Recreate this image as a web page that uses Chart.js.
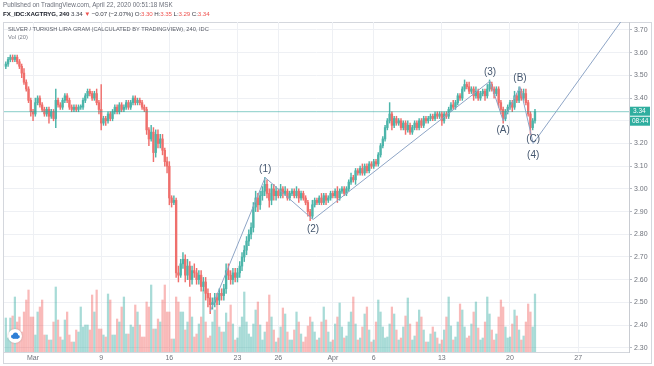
<!DOCTYPE html>
<html>
<head>
<meta charset="utf-8">
<script src="https://cdn.jsdelivr.net/npm/chart.js@4.4.1/dist/chart.umd.min.js"></script>
<style>
  body { margin: 0; background: #fff; }
  #wrap { position: relative; width: 654px; height: 366px; overflow: hidden; font-family: "Liberation Sans", "DejaVu Sans", sans-serif; }
  #frame { position: absolute; left: 3px; top: 22px; width: 647px; height: 340px; border: 1px solid #d4d7dd; }
  #myChart { position: absolute; left: 0; top: 0; }
  .txt { position: absolute; white-space: nowrap; }
  #pub { left: 3px; top: 1px; font-size: 6.3px; color: #6b6f7a; }
  #sym { left: 3px; top: 10px; font-size: 6.2px; color: #3a3e48; letter-spacing: -0.1px; }
  #sym b { color: #20242e; }
  .red { color: #ef5350; }
  #title { left: 8px; top: 26px; font-size: 5.7px; color: #5c606a; }
  #vol { left: 8px; top: 34px; font-size: 5.8px; color: #7a7e88; }
</style>
</head>
<body>
<div id="wrap">
  <div id="frame"></div>
  <canvas id="myChart" width="654" height="366"></canvas>
  <div class="txt" id="pub">Published on TradingView.com, April 22, 2020 00:51:18 MSK</div>
  <div class="txt" id="sym"><b>FX_IDC:XAGTRYG, 240</b> 3.34 <span class="red">▼</span> −0.07 (−2.07%) O:<span class="red">3.30</span> H:<span class="red">3.35</span> L:<span class="red">3.29</span> C:<span class="red">3.34</span></div>
  <div class="txt" id="title">SILVER / TURKISH LIRA GRAM (CALCULATED BY TRADINGVIEW), 240, IDC</div>
  <div class="txt" id="vol">Vol (20)</div>
</div>
<script>
'use strict';

// 4h bars, x = bar number counted from Mon 2 Mar 00:00 (6 bars a day, weekends left out)
var firstBar = -12;
var firstOpen = 3.54;

var closes = [
    3.55, 3.57, 3.58, 3.57, 3.58, 3.56,   // Feb 27
    3.54, 3.51, 3.47, 3.44, 3.39, 3.34,   // Feb 28
    3.33, 3.38, 3.40, 3.37, 3.35, 3.33,   // Mar 2
    3.35, 3.32, 3.34, 3.31, 3.39, 3.37,
    3.36, 3.39, 3.41, 3.39, 3.36, 3.35,
    3.36, 3.35, 3.36, 3.36, 3.39, 3.41,
    3.43, 3.42, 3.40, 3.42, 3.38, 3.35,
    3.29, 3.31, 3.30, 3.33, 3.31, 3.34,   // Mar 9
    3.36, 3.34, 3.37, 3.35, 3.36, 3.38,
    3.36, 3.38, 3.40, 3.38, 3.39, 3.38,
    3.36, 3.35, 3.26, 3.22, 3.25, 3.16,
    3.24, 3.20, 3.22, 3.17, 3.12, 3.10,
    2.96, 2.94, 2.95, 2.63, 2.62, 2.67,   // Mar 16
    2.69, 2.62, 2.66, 2.60, 2.64, 2.63,
    2.60, 2.62, 2.57, 2.59, 2.54, 2.52,
    2.49, 2.50, 2.52, 2.51, 2.54, 2.53,
    2.56, 2.64, 2.62, 2.60, 2.63, 2.61,
    2.63, 2.66, 2.70, 2.73, 2.77, 2.80,   // Mar 23
    2.83, 2.92, 2.96, 2.93, 2.97, 2.99,
    3.02, 2.98, 2.95, 3.00, 2.97, 2.99,
    2.97, 3.00, 2.98, 2.99, 2.96, 2.98,
    2.99, 2.97, 2.99, 2.96, 2.98, 2.96,
    2.94, 2.90, 2.88, 2.93, 2.95, 2.94,   // Mar 30
    2.96, 2.94, 2.97, 2.95, 2.96, 2.98,
    2.97, 2.99, 2.96, 2.99, 3.00, 2.98,
    3.00, 3.03, 3.05, 3.04, 3.08, 3.07,
    3.09, 3.07, 3.10, 3.08, 3.11, 3.10,
    3.12, 3.11, 3.15, 3.19, 3.22, 3.27,   // Apr 6
    3.30, 3.33, 3.28, 3.31, 3.29, 3.30,
    3.27, 3.29, 3.26, 3.28, 3.25, 3.27,
    3.29, 3.27, 3.30, 3.28, 3.31, 3.30,
    3.31, 3.32, 3.31, 3.33, 3.32, 3.33,
    3.30, 3.33, 3.32, 3.35, 3.37, 3.36,   // Apr 13
    3.38, 3.41, 3.40, 3.44, 3.46, 3.45,
    3.43, 3.44, 3.41, 3.43, 3.40, 3.42,
    3.43, 3.41, 3.44, 3.46, 3.44, 3.42,
    3.44, 3.38, 3.35, 3.31, 3.34, 3.36,
    3.38, 3.36, 3.41, 3.39, 3.43, 3.40,   // Apr 20
    3.42, 3.38, 3.33, 3.27, 3.30, 3.34
];

// wick length above / below the body, in hundredths
var wickUp = [
    1,1,1,1,1,1,  1,1,2,1,1,1,  1,2,1,1,1,1,  1,1,1,1,5,1,  1,1,1,1,1,1,
    1,1,1,1,1,1,  1,1,1,1,2,1,  11,1,1,1,1,1, 1,1,1,1,1,1,  1,1,1,1,1,1,
    1,1,1,1,3,2,  2,2,2,2,1,2,  2,1,2,1,3,2,  3,2,3,2,2,3,  2,2,2,2,2,2,
    2,2,2,2,2,2,  2,3,3,2,2,2,  2,2,2,2,2,2,  2,2,3,2,2,2,  3,2,2,2,2,2,
    1,2,1,2,1,1,  1,1,2,1,1,1,  1,1,1,2,1,1,  1,2,1,1,1,1,  1,1,2,1,1,1,
    1,1,2,1,1,1,  1,2,1,1,1,1,  1,1,1,1,1,1,  1,5,1,1,1,1,  1,1,1,2,1,1,
    1,1,1,1,1,1,  1,1,1,1,1,1,  1,1,1,1,1,2,  1,1,1,1,2,1,  2,1,1,2,1,1,
    1,1,2,2,1,1,  1,1,1,1,1,1,  1,1,2,1,2,1,  2,2,1,1,1,1
];
var wickDn = [
    1,1,1,1,1,1,  1,2,1,1,1,2,  3,1,1,1,1,1,  1,3,1,1,4,1,  1,1,1,1,1,1,
    1,1,1,1,1,1,  1,1,1,1,1,2,  3,1,2,1,1,1,  1,1,1,1,1,1,  1,1,1,1,1,1,
    1,1,2,3,1,4,  2,2,2,2,2,3,  3,2,1,2,3,1,  2,3,2,3,2,2,  2,2,2,2,3,4,
    4,2,2,2,2,2,  2,2,2,2,2,2,  2,2,2,2,2,2,  2,2,2,3,2,2,  2,2,3,2,2,2,
    1,1,2,1,1,1,  1,1,1,2,1,1,  1,2,2,1,1,1,  1,1,1,2,1,1,  1,1,2,1,1,1,
    1,1,1,1,2,1,  1,1,1,1,1,1,  1,1,1,1,1,1,  1,1,2,1,1,1,  1,1,2,1,1,1,
    1,1,1,1,1,1,  1,1,1,1,1,1,  2,1,1,1,1,1,  1,1,1,1,1,1,  1,1,2,1,1,1,
    1,2,1,1,1,2,  1,2,2,2,1,1,  1,2,1,1,1,1,  1,1,1,3,1,1
];

var volumes = [
    34,14,34,36,55,30,  35,20,40,52,62,35,
    35,17,40,45,52,17,  17,12,12,30,65,32,  15,12,32,40,17,10,  10,22,20,45,25,27,  27,22,57,40,62,23,
    23,17,15,58,52,17,  17,33,30,45,55,18,  18,27,25,47,40,27,  15,15,50,45,67,23,  23,33,30,52,67,40,
    40,13,13,55,50,40,  40,22,30,55,35,15,  18,28,35,62,30,14,  16,30,42,55,25,20,  20,39,30,47,28,12,
    14,25,35,60,30,18,  15,28,42,50,27,12,  20,30,57,35,22,10,  14,25,44,38,20,12,  12,22,40,30,18,10,
    15,26,35,30,20,12,  14,30,45,32,20,10,  12,28,35,49,25,14,  16,30,40,55,28,12,  14,25,38,45,22,10,
    12,30,52,40,25,14,  15,28,45,38,22,12,  14,25,36,54,28,12,  16,30,42,35,22,10,  10,18,25,20,14,8,
    12,22,35,55,26,12,  15,30,48,42,25,14,  16,28,40,50,24,12,  14,30,55,38,22,12,  18,35,52,45,25,14,
    15,28,42,36,22,12,  16,30,48,40,25,58
];

var dateTicks = [0, 30, 60, 90, 108, 132, 150, 180, 210, 240];
var dateLabels = ['Mar', '9', '16', '23', '26', 'Apr', '6', '13', '20', '27'];
var priceTicks = [2.3, 2.4, 2.5, 2.6, 2.7, 2.8, 2.9, 3.0, 3.1, 3.2, 3.3, 3.4, 3.5, 3.6, 3.7];

// wave count drawn on the chart
var waveX = [78, 102.2, 123.3, 201.2, 207, 214.4, 220.2, 267];
var waveY = [2.46, 3.05, 2.865, 3.475, 3.30, 3.45, 3.20, 3.85];
var waveNames = ['(1)', '(2)', '(3)', '(A)', '(B)', '(C)', '(4)'];
var waveAt = [1, 2, 3, 4, 5, 6, 6];

var lastPrice = 3.34;
var countdown = '08:44';

var UP = '#4cb5aa', DOWN = '#ef6f6c';
var UP_VOL = 'rgba(38,166,154,0.40)', DOWN_VOL = 'rgba(239,83,80,0.40)';

var bodies = [], wicks = [], vols = [], colors = [], volColors = [];
closes.forEach(function (c, i) {
    var o = i === 0 ? firstOpen : closes[i - 1];
    var x = firstBar + i;
    bodies.push({ x: x, y: [o, c] });
    wicks.push({ x: x, y: [Math.min(o, c) - wickDn[i] / 100, Math.max(o, c) + wickUp[i] / 100] });
    vols.push({ x: x, y: volumes[i] });
    colors.push(c >= o ? UP : DOWN);
    volColors.push(c >= o ? UP_VOL : DOWN_VOL);
});

var wavePoints = waveX.map(function (x, i) { return { x: x, y: waveY[i] }; });
var priceLine = [{ x: -20, y: lastPrice }, { x: 300, y: lastPrice }];

var labelOffset = [-8, 10, -9, 9, -8, -4, 12];

var overlay = {
    id: 'overlay',
    afterDatasetsDraw: function (chart) {
        var c = chart.ctx, xs = chart.scales.x, ys = chart.scales.y;
        c.save();
        c.font = '10px "Liberation Sans", "DejaVu Sans", sans-serif';
        c.textAlign = 'center';
        c.textBaseline = 'middle';
        c.fillStyle = '#44566e';
        waveNames.forEach(function (t, i) {
            var k = waveAt[i];
            c.fillText(t, xs.getPixelForValue(waveX[k]), ys.getPixelForValue(waveY[k]) + labelOffset[i]);
        });
        c.restore();
    },
    afterDraw: function (chart) {
        var c = chart.ctx, ys = chart.scales.y, area = chart.chartArea;
        var y = ys.getPixelForValue(lastPrice);
        c.save();
        c.fillStyle = '#2fae9f';
        c.fillRect(area.right + 1, y - 5, 20, 9);
        c.fillRect(area.right + 1, y + 5, 20, 9);
        c.fillStyle = '#fff';
        c.font = '6.5px "Liberation Sans", sans-serif';
        c.textAlign = 'left';
        c.textBaseline = 'middle';
        c.fillText(lastPrice.toFixed(2), area.right + 4, y - 0.5);
        c.fillText(countdown, area.right + 3, y + 9.5);

        // little tradingview badge, bottom left
        var bx = area.left + 11, by = area.bottom - 16;
        c.beginPath();
        c.arc(bx, by, 7, 0, Math.PI * 2);
        c.fillStyle = '#fff';
        c.shadowColor = 'rgba(0,0,0,0.25)';
        c.shadowBlur = 2;
        c.fill();
        c.shadowBlur = 0;
        c.fillStyle = '#2e7fd6';
        c.beginPath();
        c.arc(bx - 2, by + 0.5, 2, 0, Math.PI * 2);
        c.arc(bx + 0.5, by - 1, 2.6, 0, Math.PI * 2);
        c.arc(bx + 3, by + 0.8, 1.8, 0, Math.PI * 2);
        c.fill();
        c.fillRect(bx - 2, by + 0.5, 5, 2.3);
        c.restore();
    }
};

var ctx = document.getElementById('myChart').getContext('2d');
var myChart = new Chart(ctx, {
    data: {
        datasets: [
            { type: 'line', data: wavePoints, borderColor: '#8ea5c6', borderWidth: 1, pointRadius: 0, tension: 0, order: 0 },
            { type: 'line', data: priceLine, borderColor: 'rgba(38,166,154,0.55)', borderWidth: 1, pointRadius: 0, order: 1 },
            { type: 'bar', data: bodies, backgroundColor: colors, barThickness: 1.7, minBarLength: 1, grouped: false, order: 2 },
            { type: 'bar', data: wicks, backgroundColor: colors, barThickness: 0.8, grouped: false, order: 3 },
            { type: 'bar', data: vols, yAxisID: 'yv', backgroundColor: volColors, barThickness: 1.6, grouped: false, order: 4 }
        ]
    },
    options: {
        responsive: false,
        animation: false,
        events: [],
        layout: { padding: { top: 22, left: 4, right: 0, bottom: 0 } },
        plugins: { legend: { display: false }, tooltip: { enabled: false } },
        scales: {
            x: {
                type: 'linear',
                offset: false,
                min: -12.8,
                max: 262.4,
                afterBuildTicks: function (s) { s.ticks = dateTicks.map(function (v) { return { value: v }; }); },
                afterFit: function (s) { s.height = 14; s.paddingLeft = 0; s.paddingRight = 0; },
                ticks: {
                    autoSkip: false, maxRotation: 0, padding: 2,
                    font: { size: 7, family: '"Liberation Sans", sans-serif' }, color: '#6f737c',
                    callback: function (v, i) { return dateLabels[i]; }
                },
                grid: { color: '#eef0f4', drawTicks: false, offset: false },
                border: { color: '#d4d7dd' }
            },
            y: {
                position: 'right',
                min: 2.2815,
                max: 3.7352,
                afterBuildTicks: function (s) { s.ticks = priceTicks.map(function (v) { return { value: v }; }); },
                afterFit: function (s) { s.width = 25; s.paddingTop = 0; s.paddingBottom = 0; },
                ticks: {
                    padding: 2,
                    font: { size: 7, family: '"Liberation Sans", sans-serif' }, color: '#6f737c',
                    callback: function (v) { return v.toFixed(2); }
                },
                grid: { color: '#eef0f4', tickLength: 3, tickColor: '#b8bcc4' },
                border: { color: '#c9ccd2' }
            },
            yv: { display: false, min: 0, max: 330 }
        }
    },
    plugins: [overlay]
});
</script>
</body>
</html>
